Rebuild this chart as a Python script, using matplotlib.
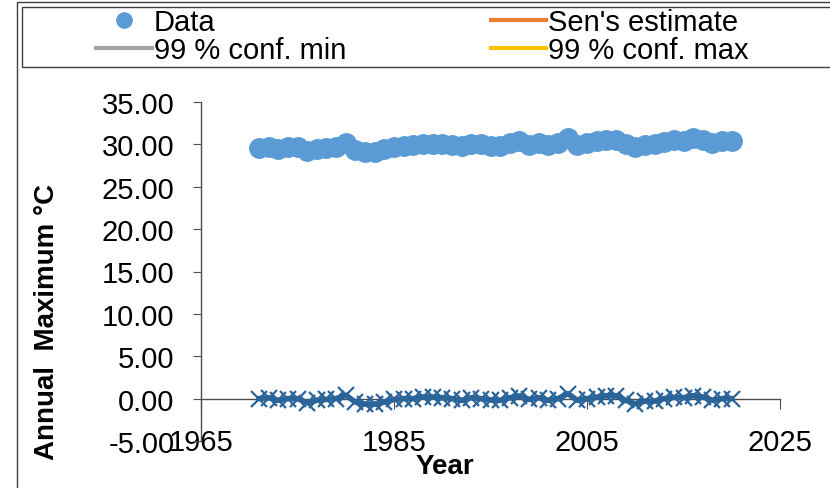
import matplotlib
matplotlib.use('Agg')
import matplotlib.pyplot as plt
from matplotlib.lines import Line2D
from matplotlib.patches import Rectangle

plt.rcParams['font.family'] = ['Liberation Sans', 'DejaVu Sans']

# --- data ---
years = list(range(1971, 2021))
annual_max = [29.60, 29.72, 29.43, 29.65, 29.67, 29.18, 29.50, 29.62, 29.73, 30.15,
              29.37, 29.14, 29.15, 29.42, 29.74, 29.85, 29.87, 30.09, 30.10, 30.02,
              29.94, 29.75, 30.07, 29.99, 29.85, 29.82, 30.14, 30.35, 29.97, 30.19,
              29.90, 30.12, 30.74, 29.95, 30.17, 30.34, 30.55, 30.57, 30.04, 29.66,
              29.97, 29.99, 30.31, 30.47, 30.44, 30.71, 30.57, 30.19, 30.41, 30.42]
residuals = [0.00, 0.10, -0.20, 0.00, 0.00, -0.50, -0.20, -0.10, 0.00, 0.40,
             -0.40, -0.65, -0.65, -0.40, -0.10, 0.00, 0.00, 0.20, 0.20, 0.10,
             0.00, -0.20, 0.10, 0.00, -0.15, -0.20, 0.10, 0.30, -0.10, 0.10,
             -0.20, 0.00, 0.60, -0.20, 0.00, 0.15, 0.35, 0.35, -0.20, -0.60,
             -0.30, -0.30, 0.00, 0.15, 0.10, 0.35, 0.20, -0.20, 0.00, 0.00]
x_ticks = [1965, 1985, 2005, 2025]
y_ticks = [-5, 0, 5, 10, 15, 20, 25, 30, 35]

data_color = '#5B9BD5'
resid_color = '#2B6499'
axis_color = '#4D4D4D'

W, H = 830, 489
fig = plt.figure(figsize=(W / 100, H / 100), dpi=100)
ax = fig.add_axes([201 / W, 1 - 442 / H, (780 - 201) / W, (442 - 103) / H])

ax.plot(years, annual_max, 'o', color=data_color, markersize=14, zorder=3)
ax.plot(years, residuals, '-x', color=resid_color, lw=4, markersize=11,
        mew=1.6, zorder=3)

ax.set_xlim(1965, 2025)
ax.set_ylim(-5, 35)
ax.set_xticks(x_ticks)
ax.set_yticks(y_ticks)
ax.set_yticklabels([f'{v:.2f}' for v in y_ticks])

for s in ['top', 'right']:
    ax.spines[s].set_visible(False)
ax.spines['bottom'].set_position(('data', 0))
for s in ['left', 'bottom']:
    ax.spines[s].set_color(axis_color)
    ax.spines[s].set_linewidth(1.0)
ax.tick_params(axis='both', colors=axis_color, labelcolor='black', labelsize=21)
ax.tick_params(axis='y', direction='out', length=6, pad=13)
ax.tick_params(axis='x', direction='out', length=7, pad=14)

fig.text(445 / W, 1 - 467 / H, 'Year', fontsize=20, fontweight='bold',
         ha='center', va='center')
fig.text(47 / W, 1 - 322 / H, 'Annual  Maximum \u00b0C', fontsize=20,
         fontweight='bold', rotation=90, ha='center', va='center')

# chart border and legend box
fig.patches.append(Rectangle((17 / W, -0.1), 1.2, 1 - 3 / H + 0.1,
                             transform=fig.transFigure, fill=False,
                             edgecolor='#404040', lw=1.0))
fig.patches.append(Rectangle((22 / W, 1 - 68 / H), 1.2, 60 / H,
                             transform=fig.transFigure, fill=False,
                             edgecolor='#404040', lw=1.0))

handles = [
    Line2D([], [], ls='none', marker='o', color=data_color, markersize=11),
    Line2D([], [], color='#A5A5A5', lw=3),
    Line2D([], [], color='#ED7D31', lw=3),
    Line2D([], [], color='#FFC000', lw=3),
]
labels = ['Data', '99 % conf. min', "Sen's estimate", '99 % conf. max']
fig.legend(handles, labels, ncol=2, loc='upper left',
           bbox_to_anchor=(76 / W, 1 + 11 / H), frameon=False, fontsize=21,
           handlelength=1.9, handletextpad=0.07, columnspacing=4.95,
           labelspacing=0.0, borderpad=0.2)

fig.savefig('out.png', dpi=100)
